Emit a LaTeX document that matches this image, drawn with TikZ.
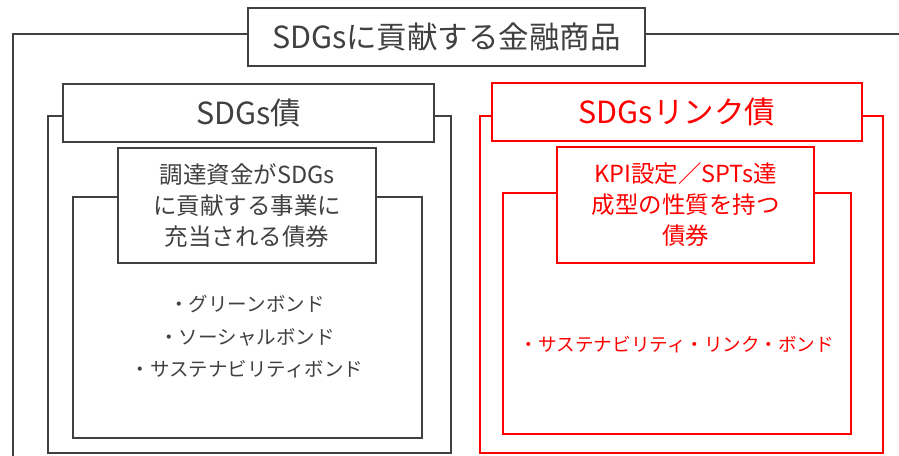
\documentclass[tikz,border=0pt]{standalone}
\usepackage{fontspec}
\setmainfont{Noto Sans CJK JP}
\definecolor{dgray}{HTML}{404040}
\definecolor{sred}{HTML}{FF0000}
\begin{document}
\begin{tikzpicture}[x=1pt,y=-1pt,
  gframe/.style={draw=dgray,line width=1.5pt,rectangle,inner sep=0pt},
  rframe/.style={draw=sred,line width=1.7pt,rectangle,inner sep=0pt},
  gbox/.style={gframe,fill=white,text=dgray},
  rbox/.style={rframe,fill=white,text=sred},
  big/.style={font=\fontsize{30.5}{36}\selectfont},
  mid/.style={font=\fontsize{23.5}{31}\selectfont,align=center},
  small/.style={font=\fontsize{19.5}{32.5}\selectfont,align=center}]
\clip (0,0) rectangle (899,455);
% outer frame (extends beyond the picture)
\node[gframe,minimum width=930,minimum height=460,anchor=north west] (outer) at (12,33) {};
% middle frames
\node[gframe,minimum width=403,minimum height=337,anchor=north west] (lmid) at (47,115) {};
\node[rframe,minimum width=403,minimum height=337,anchor=north west] (rmid) at (479,115) {};
% inner frames
\node[gframe,minimum width=349,minimum height=241,anchor=north west] (linner) at (72,196) {};
\node[rframe,minimum width=348,minimum height=241,anchor=north west] (rinner) at (502,192) {};
% title
\node[gbox,big,minimum width=397,minimum height=58] (title) at (446.5,37) {SDGsに貢献する金融商品};
% headers
\node[gbox,big,minimum width=371,minimum height=58] (lhead) at (248.5,113) {SDGs債};
\node[rbox,big,minimum width=370,minimum height=58] (rhead) at (677,112) {SDGsリンク債};
% description boxes
\node[gbox,mid,minimum width=258,minimum height=115] (ldesc) at (247,205.5) {調達資金がSDGs\\に貢献する事業に\\充当される債券};
\node[rbox,mid,minimum width=257,minimum height=116] (rdesc) at (685.5,205) {KPI設定／SPTs達\\成型の性質を持つ\\債券};
% lists
\node[small,text=dgray] (llist) at (247,337) {・グリーンボンド\\・ソーシャルボンド\\・サステナビリティボンド};
\node[small,text=sred,font=\fontsize{18.6}{32.5}\selectfont] (rlist) at (677,345) {・サステナビリティ・リンク・ボンド};
\end{tikzpicture}
\end{document}
